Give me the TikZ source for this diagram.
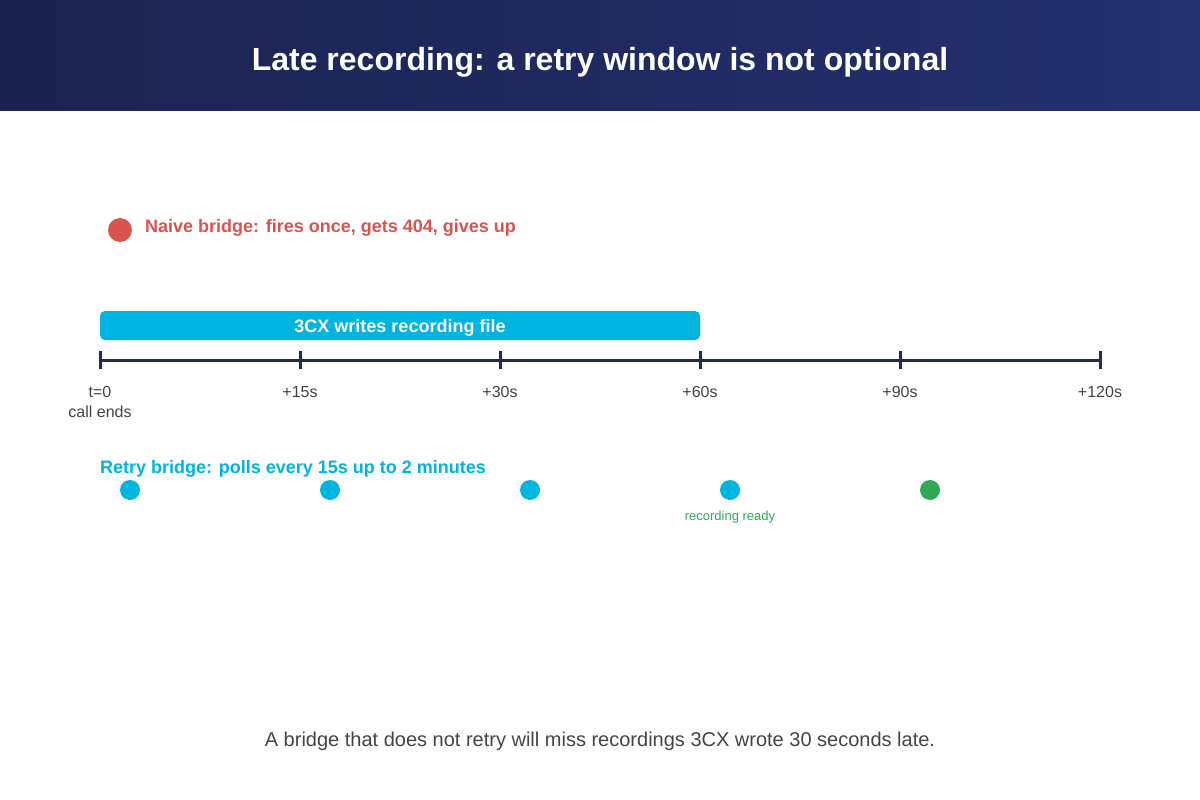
\documentclass[tikz,border=0pt]{standalone}
\usepackage{fontspec}
\setmainfont{Liberation Sans}
\usetikzlibrary{positioning}
\definecolor{navy}{HTML}{232A5C}
\definecolor{navyA}{HTML}{1B2350}
\definecolor{navyB}{HTML}{243070}
\definecolor{naive}{HTML}{D9534F}
\definecolor{retry}{HTML}{00B4E0}
\definecolor{ready}{HTML}{2EAA55}
\definecolor{txt}{HTML}{444444}

\begin{document}
\begin{tikzpicture}[x=1pt,y=-1pt]
    \tikzstyle{dot}=[shape=circle,minimum size=20pt,inner sep=0pt]
    \tikzstyle{tick}=[font=\fontsize{16}{18}\selectfont,text=txt]
    \tikzstyle{heading}=[font=\bfseries\fontsize{18}{20}\selectfont,anchor=west,inner sep=0pt]

    \useasboundingbox (0,0) rectangle (1200,800);
    \shade[left color=navyA,right color=navyB] (0,0) rectangle (1200,110);
    \node[text=white,font=\bfseries\fontsize{32}{36}\selectfont] (title) at (600,62) {Late recording: a retry window is not optional};

    % naive bridge
    \node[dot,fill=naive,minimum size=24pt] (N) at (120,230) {};
    \node[heading,text=naive] (Nlab) at (145,228) {Naive bridge: fires once, gets 404, gives up};

    % recording bar
    \fill[retry,rounded corners=5pt] (100,311) rectangle (700,340);
    \node[text=white,font=\bfseries\fontsize{18}{20}\selectfont] (bar) at (400,328) {3CX writes recording file};

    % axis
    \draw[navy,line width=3pt] (100,360) -- (1100,360);
    \foreach \x/\l in {100/t=0,300/+15s,500/+30s,700/+60s,900/+90s,1100/+120s}{
        \draw[navy,line width=3pt] (\x,351) -- (\x,369);
        \node[tick] (T\x) at (\x,392) {\l};
    }
    \node[tick] (callends) at (100,412) {call ends};

    % retry bridge
    \node[heading,text=retry] (Rlab) at (100,469) {Retry bridge: polls every 15s up to 2 minutes};
    \foreach \x in {130,330,530,730}
        \node[dot,fill=retry] (R\x) at (\x,490) {};
    \node[dot,fill=ready] (R930) at (930,490) {};
    \node[text=ready,font=\fontsize{13}{15}\selectfont] (rdy) at (730,517) {recording ready};

    \node[text=txt,font=\fontsize{20}{22}\selectfont] (foot) at (600,741) {A bridge that does not retry will miss recordings 3CX wrote 30 seconds late.};
\end{tikzpicture}
\end{document}
